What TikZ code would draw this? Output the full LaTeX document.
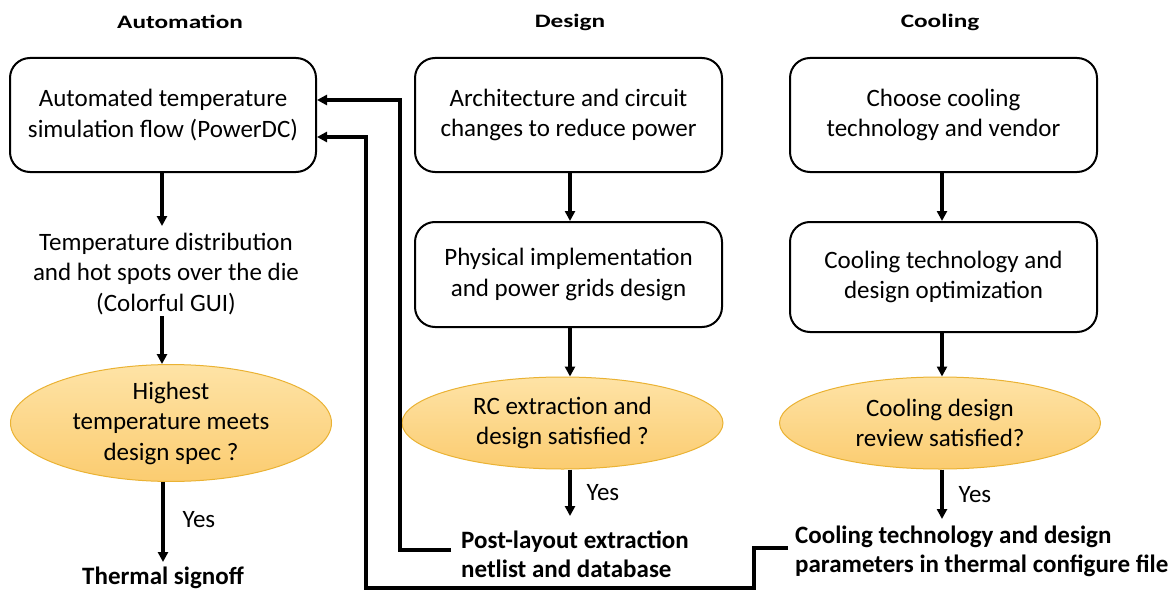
\documentclass[tikz,border=0pt]{standalone}
\usepackage{fontspec}
\setmainfont{Carlito}
\newfontfamily\headfont[FakeStretch=1.33]{Carlito}
\usetikzlibrary{shapes.geometric,arrows.meta}
\definecolor{decTop}{HTML}{FEE3A6}
\definecolor{decBottom}{HTML}{FBCC70}
\definecolor{decEdge}{HTML}{EAB233}

\begin{document}
\begin{tikzpicture}[x=1pt,y=-1pt,
  every node/.style={font=\fontsize{25}{30.5}\selectfont, align=center, inner sep=0pt},
  stepbox/.style={draw, line width=2pt, rounded corners=20pt, minimum width=306pt, minimum height=114pt},
  decision/.style={ellipse, draw=decEdge, line width=1pt, top color=decTop, bottom color=decBottom,
    minimum width=321pt, minimum height=92pt},
  flow/.style={line width=3.2pt, -{Triangle[length=10pt,width=10pt]}},
  result/.style={font=\bfseries\fontsize{25}{29}\selectfont, align=left},
  title/.style={font=\headfont\bfseries\fontsize{19}{22}\selectfont},
  yes/.style={anchor=west}
]
\useasboundingbox (0,0) rectangle (1174,591);

% column titles
\node[title, anchor=west] (tA) at (117,22) {Automation};
\node[title] (tD) at (570,22) {Design};
\node[title] (tC) at (940,22) {Cooling};

% automation column
\node[stepbox] (a1) at (163,115) {Automated temperature\\simulation flow (PowerDC)};
\node (a2) at (166,274) {Temperature distribution\\and hot spots over the die\\(Colorful GUI)};
\node[decision] (a3) at (171,423) {Highest\\temperature meets\\design spec ?};
\node[result, align=center] (a4) at (163,578) {Thermal signoff};

% design column
\node[stepbox, minimum width=307pt] (d1) at (568.5,115) {Architecture and circuit\\changes to reduce power};
\node[stepbox, minimum width=307pt, minimum height=105pt] (d2) at (568.5,274.5) {Physical implementation\\and power grids design};
\node[decision] (d3) at (562.5,423) {RC extraction and\\design satisfied ?};
\node[result, anchor=west] (d4) at (461,554) {Post-layout extraction\\netlist and database};

% cooling column
\node[stepbox, minimum width=307pt] (c1) at (943.5,115) {Choose cooling\\technology and vendor};
\node[stepbox, minimum width=307pt, minimum height=110pt] (c2) at (943.5,277) {Cooling technology and\\design optimization};
\node[decision] (c3) at (940,423) {Cooling design\\review satisfied?};
\node[result, anchor=west] (c4) at (795,551) {Cooling technology and design\\parameters in thermal configure file};

% vertical flow
\draw[flow] (a1.south -| 162,0) -- (162,226);
\draw[flow] (162,316) -- (a3.north -| 162,0);
\draw[flow] (a3.south -| 163,0) -- (163,562) node[yes, pos=0.47, xshift=18pt] (ya) {Yes};

\draw[flow] (d1.south -| 570,0) -- (d2.north -| 570,0);
\draw[flow] (d2.south -| 570,0) -- (d3.north -| 570,0);
\draw[flow] (d3.south -| 570,0) -- (570,516) node[yes, pos=0.5, xshift=15pt] (yd) {Yes};

\draw[flow] (c1.south -| 942,0) -- (c2.north -| 942,0);
\draw[flow] (c2.south -| 942,0) -- (c3.north -| 942,0);
\draw[flow] (c3.south -| 942,0) -- (942,519) node[yes, pos=0.5, xshift=15pt] (yc) {Yes};

% feedback into the simulation flow
\coordinate (fbD) at (451,550);
\coordinate (fbC) at (788,548);
\draw[flow] (fbD) -- (400,550) -- (400,100) -- (a1.east |- 0,100);
\draw[flow] (fbC) -- (754,548) -- (754,588) -- (366,588) -- (366,137) -- (a1.east |- 0,137);
\end{tikzpicture}
\end{document}
